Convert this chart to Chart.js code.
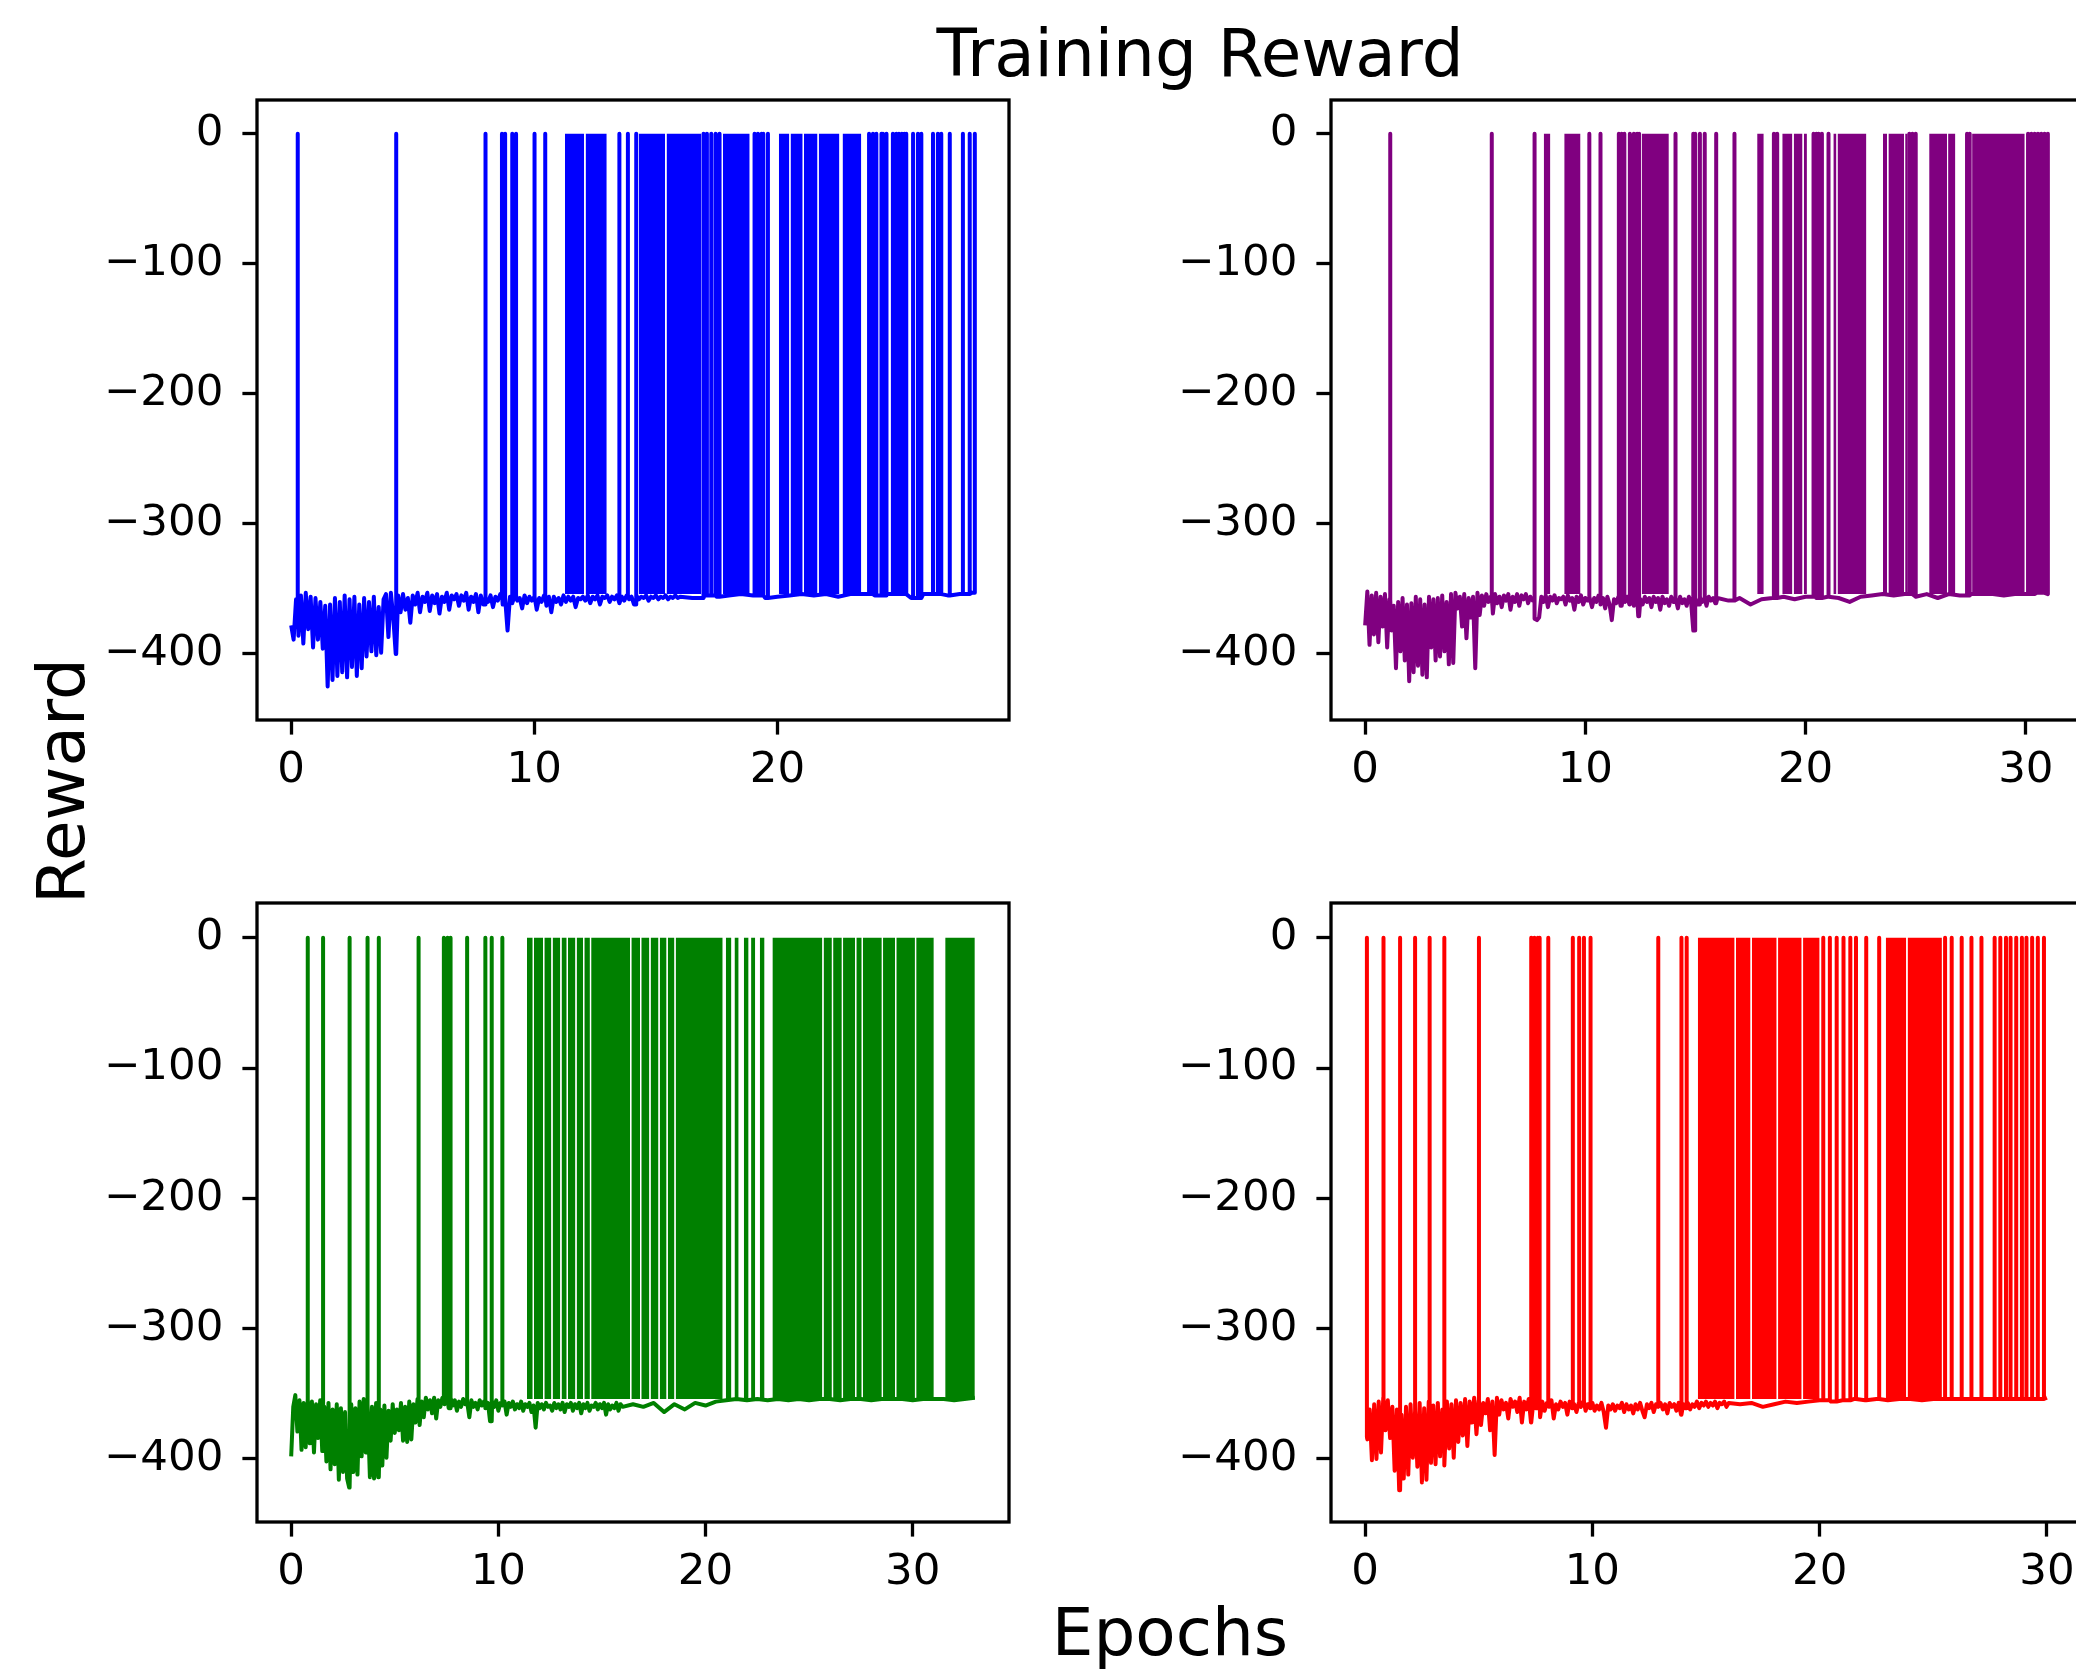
<!DOCTYPE html>
<html>
<head>
<meta charset="utf-8">
<title>Training Reward</title>
<script src="https://cdn.jsdelivr.net/npm/chart.js@4.4.1/dist/chart.umd.min.js"></script>
<style>
  html, body { margin: 0; padding: 0; background: #fff; }
  body { position: relative; width: 2076px; height: 1671px; overflow: hidden;
         font-family: 'DejaVu Sans', sans-serif; color: #000; }
  canvas { position: absolute; }
  .txt { position: absolute; font-size: 66px; line-height: 66px; height: 66px;
         text-align: center; white-space: nowrap; z-index: 2; }
</style>
</head>
<body>
<div class="txt" style="left:0; width:2400px; top:21px;">Training Reward</div>
<div class="txt" style="left:870px; width:600px; top:1600px;">Epochs</div>
<div class="txt" style="left:-138px; width:400px; top:748px; transform:rotate(-90deg);">Reward</div>

<canvas id="c0" width="1002" height="750" style="left:27px; top:80px;"></canvas>
<canvas id="c1" width="1001" height="750" style="left:1101px; top:80px;"></canvas>
<canvas id="c2" width="1002" height="749" style="left:27px; top:883px;"></canvas>
<canvas id="c3" width="1000" height="749" style="left:1101px; top:883px;"></canvas>

<script>
// ---- data ----
// baseline reward every 0.1 epoch from 0 to 16, then every 0.5 epoch from 16.5 on
const EARLY_STEP = 0.1;
const LATE_START = 16.5;
const LATE_STEP = 0.5;
const TOP_REWARD = 0;      // value the spikes reach
const BAND_FLOOR = -354;   // bottom of the dense (saturated) stretches

const Y_TICKS = [0, -100, -200, -300, -400];

// blue run
const blueEarly = [
  -378, -389, -358, -386, -355, -392, -353, -381, -356, -395,
  -357, -389, -360, -396, -363, -425, -362, -420, -357, -417,
  -360, -414, -355, -418, -358, -410, -356, -417, -362, -411,
  -357, -402, -360, -398, -356, -401, -364, -399, -358, -354,
  -387, -353, -372, -400, -355, -368, -354, -366, -357, -376,
  -355, -362, -353, -368, -356, -360, -353, -367, -355, -361,
  -354, -369, -356, -360, -353, -366, -355, -358, -354, -363,
  -355, -359, -353, -366, -356, -360, -354, -368, -355, -362,
  -357, -360, -355, -364, -356, -359, -354, -362, -357, -382,
  -356, -361, -355, -359, -357, -365, -355, -361, -356, -359,
  -356, -366, -357, -360, -355, -363, -356, -368, -356, -360,
  -357, -362, -355, -360, -356, -359, -356, -364, -357, -358,
  -356, -359, -355, -361, -356, -358, -355, -362, -356, -357,
  -355, -360, -356, -358, -355, -361, -356, -359, -355, -358,
  -356, -362, -355, -358, -356, -357, -355, -359, -356, -357,
  -355, -358, -356, -357, -355, -358, -356, -357, -355, -357,
  -356
];
const blueLate = [
  -357, -355, -356, -355, -354, -355, -357, -356, -355, -354,
  -355, -354, -356, -354, -354, -355, -354, -354, -357, -354,
  -354, -355, -354, -353
];
const blueSpikes = [0.27, 4.32, 7.99, 8.67, 8.8, 9.09, 9.25, 10.01, 10.45, 13.5, 13.85, 14.19,
  16.96, 17.1, 17.28, 17.46, 17.62, 19.06, 19.2, 19.35, 19.42, 19.61, 23.77, 23.93, 24.07,
  24.28, 24.34, 24.48, 24.75, 24.89, 25.0, 25.12, 25.22, 25.3, 25.58, 25.78, 25.92, 26.4,
  26.6, 26.74, 27.09, 27.63, 27.91, 28.12];
const blueBands = [[11.26, 12.05], [12.11, 12.98], [14.3, 15.38], [15.44, 16.87], [17.76, 18.86],
  [20.06, 20.49], [20.54, 21.04], [21.09, 21.65], [21.7, 22.55], [22.68, 23.45]];

// purple run
const purpleEarly = [
  -378, -352, -393, -355, -385, -353, -391, -356, -379, -354,
  -395, -358, -382, -363, -411, -360, -398, -357, -405, -362,
  -421, -361, -414, -356, -409, -358, -416, -362, -418, -356,
  -395, -358, -405, -357, -402, -355, -398, -360, -408, -354,
  -407, -353, -365, -356, -379, -354, -388, -357, -372, -356,
  -411, -353, -370, -355, -363, -354, -360, -356, -369, -354,
  -361, -356, -364, -355, -359, -354, -366, -356, -360, -354,
  -363, -355, -358, -354, -361, -356, -359, -373, -374, -372,
  -356, -360, -355, -364, -356, -359, -355, -361, -357, -358,
  -356, -362, -355, -359, -357, -366, -356, -360, -355, -362,
  -357, -359, -356, -364, -357, -360, -355, -362, -357, -365,
  -356, -362, -374, -358, -361, -356, -363, -357, -360, -356,
  -362, -357, -363, -356, -371, -358, -362, -356, -360, -357,
  -364, -356, -360, -357, -366, -356, -361, -358, -363, -356,
  -360, -357, -365, -356, -361, -358, -363, -356, -360, -382,
  -357, -362, -356, -360, -358, -363, -356, -359, -357, -361,
  -357
];
const purpleLate = [
  -359, -357, -362, -358, -357, -356, -358, -356, -357, -356,
  -357, -360, -356, -355, -354, -355, -354, -356, -354, -357,
  -354, -355, -354, -354, -354, -355, -354, -354, -353, -354
];
const purpleSpikes = [1.14, 5.75, 7.69, 10.17, 10.68, 11.52, 11.65, 11.77, 12.02, 12.2, 12.35,
  12.44, 14.09, 14.9, 14.98, 15.2, 15.42, 15.94, 16.77, 18.56, 18.71, 20.36, 20.48, 20.59,
  20.74, 21.04, 24.71, 24.85, 25.0, 27.33, 27.45, 30.1, 30.25, 30.4, 30.55, 30.7, 30.85, 31.0];
const purpleBands = [[8.11, 8.41], [9.04, 9.78], [12.56, 13.79], [17.8, 18.1], [18.94, 19.4],
  [19.46, 19.86], [19.92, 20.06], [21.26, 21.4], [21.45, 22.76], [23.51, 23.7], [23.76, 24.47],
  [24.52, 24.64], [25.61, 26.42], [26.47, 26.8], [27.56, 29.95]];

// green run
const greenEarly = [
  -398, -360, -351, -379, -355, -393, -357, -391, -354, -388,
  -356, -395, -358, -384, -355, -394, -360, -402, -357, -408,
  -362, -404, -358, -416, -361, -410, -364, -415, -422, -358,
  -410, -361, -412, -356, -398, -354, -395, -358, -414, -360,
  -415, -357, -414, -362, -405, -359, -399, -363, -386, -358,
  -380, -362, -378, -357, -386, -360, -387, -356, -385, -358,
  -372, -354, -374, -356, -368, -353, -362, -355, -365, -353,
  -369, -355, -360, -353, -358, -354, -361, -353, -359, -355,
  -363, -356, -360, -354, -358, -356, -368, -355, -360, -357,
  -362, -355, -359, -356, -361, -357, -371, -356, -360, -355,
  -363, -357, -359, -356, -366, -357, -360, -356, -362, -358,
  -361, -356, -363, -358, -360, -357, -364, -359, -376, -357,
  -361, -358, -362, -357, -360, -359, -363, -357, -361, -358,
  -362, -357, -364, -358, -360, -357, -363, -358, -361, -357,
  -365, -358, -361, -357, -363, -359, -360, -357, -362, -358,
  -361, -357, -366, -358, -362, -359, -361, -357, -363, -358,
  -360
];
const greenLate = [
  -358, -360, -357, -364, -358, -362, -357, -359, -356, -355,
  -354, -355, -354, -355, -354, -355, -354, -355, -354, -354,
  -355, -354, -354, -355, -354, -354, -354, -355, -354, -354,
  -354, -355, -354, -353
];
const greenSpikes = [0.8, 1.54, 2.82, 3.68, 4.23, 6.15, 7.37, 7.55, 7.69, 8.49, 9.36, 9.68, 10.19];
const greenBands = [[11.38, 11.66], [11.72, 12.16], [12.22, 12.56], [12.62, 12.99], [13.05, 13.3],
  [13.36, 13.72], [13.78, 14.09], [14.15, 14.42], [14.48, 16.36], [16.42, 16.84], [16.9, 17.29],
  [17.35, 17.73], [17.79, 18.12], [18.18, 18.5], [18.56, 20.83], [20.98, 21.25], [21.4, 21.6],
  [21.85, 22.08], [22.2, 22.4], [22.62, 22.85], [23.23, 25.64], [25.7, 26.1], [26.16, 26.58],
  [26.64, 27.22], [27.28, 27.54], [27.6, 28.51], [28.57, 29.15], [29.21, 30.11], [30.17, 31.02],
  [31.57, 33.0]];

// red run
const redEarly = [
  -383, -385, -362, -401, -358, -400, -356, -395, -353, -378,
  -355, -384, -360, -409, -362, -424, -366, -415, -360, -412,
  -358, -399, -363, -406, -357, -418, -361, -416, -356, -403,
  -359, -404, -357, -398, -362, -405, -356, -392, -358, -399,
  -355, -387, -357, -382, -354, -390, -356, -372, -353, -381,
  -355, -374, -357, -365, -354, -378, -356, -397, -353, -366,
  -355, -362, -357, -369, -354, -360, -356, -364, -353, -372,
  -356, -362, -354, -372, -357, -361, -355, -368, -356, -363,
  -357, -360, -355, -369, -358, -362, -356, -360, -357, -366,
  -356, -361, -358, -364, -357, -360, -356, -363, -358, -361,
  -357, -363, -359, -362, -357, -364, -376, -359, -362, -358,
  -363, -359, -361, -357, -364, -358, -362, -359, -365, -358,
  -362, -357, -363, -368, -358, -361, -357, -364, -358, -360,
  -357, -362, -358, -365, -357, -360, -358, -363, -357, -366,
  -358, -361, -357, -362, -358, -360, -356, -361, -357, -359,
  -356, -360, -357, -359, -356, -361, -357, -358, -356, -360,
  -357
];
const redLate = [
  -358, -357, -360, -358, -356, -357, -356, -355, -356, -355,
  -354, -355, -354, -355, -354, -354, -355, -354, -354, -354,
  -354, -354, -354, -354, -354, -354, -354, -353
];
const redSpikes = [0.08, 0.81, 1.54, 2.2, 2.84, 3.48, 5.01, 7.31, 7.45, 7.6, 7.68, 8.06, 9.14,
  9.42, 9.63, 9.92, 12.9, 13.92, 14.15, 20.16, 20.45, 20.75, 21.05, 21.35, 21.6, 22.05, 22.62,
  25.52, 25.81, 26.25, 26.68, 27.12, 27.7, 27.95, 28.2, 28.4, 28.65, 28.9, 29.1, 29.35, 29.6,
  29.87];
const redBands = [[14.64, 16.26], [16.32, 16.96], [17.02, 18.11], [18.17, 19.21], [19.27, 20.0],
  [22.91, 23.81], [23.87, 25.38]];

// ---- panels ----
const panels = [
  { id: 'c0', color: 'blue',   early: blueEarly,   late: blueLate,   spikes: blueSpikes,   bands: blueBands,   xTicks: [0, 10, 20],     yRange: [-450.8, 25.9] },
  { id: 'c1', color: 'purple', early: purpleEarly, late: purpleLate, spikes: purpleSpikes, bands: purpleBands, xTicks: [0, 10, 20, 30], yRange: [-450.8, 25.9] },
  { id: 'c2', color: 'green',  early: greenEarly,  late: greenLate,  spikes: greenSpikes,  bands: greenBands,  xTicks: [0, 10, 20, 30], yRange: [-448.4, 26.7] },
  { id: 'c3', color: 'red',    early: redEarly,    late: redLate,    spikes: redSpikes,    bands: redBands,    xTicks: [0, 10, 20, 30], yRange: [-448.4, 26.7] },
];

const FONT = { family: "'DejaVu Sans', sans-serif", size: 43.5 };
const TICK_LEN = 14.6;
const SPINE_W = 3.3;

// baseline + spikes -> line points (a spike goes straight up from the baseline and back)
function buildLine(early, late, spikes) {
  const base = early.map((y, i) => ({ x: i * EARLY_STEP, y: y }))
    .concat(late.map((y, i) => ({ x: LATE_START + i * LATE_STEP, y: y })));
  const pts = [];
  let k = 0;
  let last = base[0].y;
  const addSpike = (s) => {
    pts.push({ x: s, y: last }, { x: s, y: TOP_REWARD }, { x: s, y: last });
  };
  base.forEach((p) => {
    while (k < spikes.length && spikes[k] < p.x) addSpike(spikes[k++]);
    pts.push(p);
    last = p.y;
  });
  while (k < spikes.length) addSpike(spikes[k++]);
  return pts;
}

function fmt(v) {
  return v < 0 ? '\u2212' + Math.abs(v) : String(v);
}

// matplotlib-like box around the axes
const framePlugin = {
  id: 'frame',
  afterDatasetsDraw(chart) {
    const { ctx, chartArea: a } = chart;
    ctx.save();
    ctx.strokeStyle = '#000';
    ctx.lineWidth = SPINE_W;
    ctx.strokeRect(a.left, a.top, a.right - a.left, a.bottom - a.top);
    ctx.restore();
  },
};

panels.forEach((p) => {
  const line = buildLine(p.early, p.late, p.spikes);
  const xEnd = Math.max(...line.map((d) => d.x));

  const datasets = p.bands.map((b) => ({
    data: [{ x: b[0], y: TOP_REWARD }, { x: b[1], y: TOP_REWARD }],
    borderColor: 'rgba(0,0,0,0)',
    borderWidth: 1,
    backgroundColor: p.color,
    fill: { value: BAND_FLOOR },
    pointRadius: 0,
  }));
  datasets.push({
    data: line,
    borderColor: p.color,
    borderWidth: 4,
    borderJoinStyle: 'round',
    fill: false,
    pointRadius: 0,
    tension: 0,
  });

  new Chart(document.getElementById(p.id), {
    type: 'line',
    data: { datasets: datasets },
    options: {
      responsive: false,
      maintainAspectRatio: false,
      devicePixelRatio: 1,
      animation: false,
      events: [],
      layout: { padding: { top: 20, right: 20, left: 0, bottom: 0 } },
      plugins: { legend: { display: false }, tooltip: { enabled: false }, title: { display: false } },
      scales: {
        x: {
          type: 'linear',
          min: -0.05 * xEnd,
          max: 1.05 * xEnd,
          afterFit: (s) => { s.height = 110; s.paddingLeft = 0; s.paddingRight = 0; },
          afterBuildTicks: (s) => { s.ticks = p.xTicks.map((v) => ({ value: v })); },
          grid: { drawOnChartArea: false, drawTicks: true, tickLength: TICK_LEN, tickWidth: SPINE_W, tickColor: '#000' },
          border: { display: false },
          ticks: { font: FONT, color: '#000', padding: 10, maxRotation: 0, autoSkip: false, callback: fmt },
        },
        y: {
          type: 'linear',
          min: p.yRange[0],
          max: p.yRange[1],
          afterFit: (s) => { s.width = 230; s.paddingTop = 0; s.paddingBottom = 0; },
          afterBuildTicks: (s) => { s.ticks = Y_TICKS.map((v) => ({ value: v })); },
          grid: { drawOnChartArea: false, drawTicks: true, tickLength: TICK_LEN, tickWidth: SPINE_W, tickColor: '#000' },
          border: { display: false },
          ticks: { font: FONT, color: '#000', padding: 19, autoSkip: false, callback: fmt },
        },
      },
    },
    plugins: [framePlugin],
  });
});
</script>
</body>
</html>
